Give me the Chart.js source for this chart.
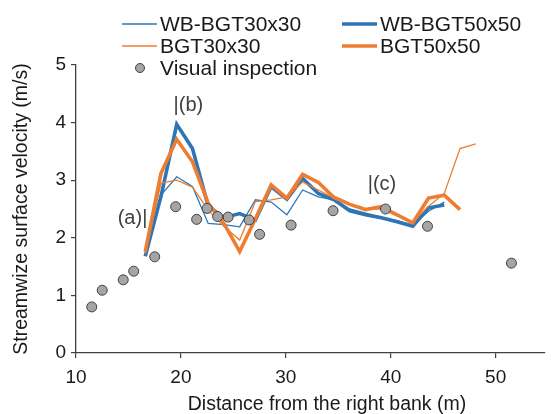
<!DOCTYPE html>
<html>
<head>
<meta charset="utf-8">
<script src="https://cdn.jsdelivr.net/npm/chart.js@4"></script>
<style>
  html, body { margin: 0; padding: 0; background: #fff; }
  #wrap { width: 551px; height: 414px; position: relative; }
</style>
</head>
<body>
<div id="wrap"><canvas id="velocityChart"></canvas></div>
<script>
// model stations (m from the right bank), every 1.5 m
const distance = [16.6, 18.1, 19.6, 21.1, 22.6, 24.1, 25.6, 27.1, 28.6, 30.1, 31.6,
                  33.1, 34.6, 36.1, 37.6, 39.1, 40.6, 42.1, 43.6, 45.1, 46.6, 48.1]

const wbBgt30 = [1.70, 2.74, 3.06, 2.89, 2.25, 2.23, 2.19, 2.66, 2.62, 2.40, 2.83,
                 2.71, 2.66, 2.50, 2.43, 2.36, 2.30, 2.22, 2.46, 2.62]
const wbBgt50 = [1.68, 2.72, 3.97, 3.55, 2.55, 2.35, 2.42, 2.31, 2.89, 2.67, 3.03,
                 2.77, 2.66, 2.47, 2.40, 2.35, 2.28, 2.20, 2.52, 2.57]
const bgt30 = [1.72, 2.95, 3.00, 2.88, 2.48, 2.20, 1.96, 2.63, 2.66, 2.71, 2.97,
               2.83, 2.69, 2.58, 2.50, 2.50, 2.38, 2.27, 2.55, 2.77, 3.55, 3.63]
const bgt50 = [1.76, 3.12, 3.71, 3.32, 2.60, 2.25, 1.76, 2.33, 2.92, 2.69, 3.10,
               2.96, 2.70, 2.58, 2.49, 2.54, 2.40, 2.26, 2.69, 2.74, 2.49]

// visual inspection
const visDistance = [11.5, 12.5, 14.5, 15.5, 17.5, 19.5, 21.5, 22.5, 23.5, 24.5,
                     26.5, 27.5, 30.5, 34.5, 39.5, 43.5, 51.5]
const visVelocity = [0.80, 1.09, 1.27, 1.42, 1.67, 2.54, 2.32, 2.51, 2.37, 2.36,
                     2.31, 2.06, 2.22, 2.47, 2.50, 2.20, 1.56]

const xTicks = [10, 20, 30, 40, 50]
const yTicks = [0, 1, 2, 3, 4, 5]

// section labels
const noteText = ['(a)|', '|(b)', '|(c)']
const noteX = [16.8, 19.3, 37.8]
const noteY = [2.34, 4.3, 2.92]

const BLUE = '#2E75B6'
const ORANGE = '#ED7D31'
const FONT = "'Liberation Sans', Arial, sans-serif"

let pairs = function (xs, ys) {
    return ys.map(function (y, i) { return { x: xs[i], y: y } })
}

let lineSet = function (label, values, color, width, order) {
    return {
        label: label,
        data: pairs(distance, values),
        showLine: true,
        borderColor: color,
        backgroundColor: color,
        borderWidth: width,
        pointRadius: 0,
        fill: false,
        tension: 0,
        order: order
    }
}

let legendItems = [
    { text: 'WB-BGT30x30', color: BLUE, width: 1.3, x: 122, y: 24 },
    { text: 'WB-BGT50x50', color: BLUE, width: 3.6, x: 342, y: 24 },
    { text: 'BGT30x30', color: ORANGE, width: 1.3, x: 122, y: 46 },
    { text: 'BGT50x50', color: ORANGE, width: 3.6, x: 342, y: 46 },
    { text: 'Visual inspection', dot: true, x: 122, y: 68 }
]

let overlay = {
    id: 'overlay',
    afterDraw: function (chart) {
        let ctx = chart.ctx
        let xs = chart.scales.x, ys = chart.scales.y
        ctx.save()

        // notes
        ctx.font = '20px ' + FONT
        ctx.fillStyle = '#404040'
        ctx.textBaseline = 'middle'
        noteText.forEach(function (t, i) {
            ctx.textAlign = t.charAt(0) === '|' ? 'left' : 'right'
            ctx.fillText(t, xs.getPixelForValue(noteX[i]), ys.getPixelForValue(noteY[i]))
        })

        // x axis title
        ctx.fillStyle = '#1a1a1a'
        ctx.font = '19.5px ' + FONT
        ctx.textAlign = 'center'
        ctx.fillText('Distance from the right bank (m)', 327, 405)

        // legend
        ctx.font = '21px ' + FONT
        ctx.textAlign = 'left'
        legendItems.forEach(function (it) {
            if (it.dot) {
                ctx.beginPath()
                ctx.arc(it.x + 18, it.y, 4.5, 0, Math.PI * 2)
                ctx.fillStyle = '#A5A5A5'
                ctx.fill()
                ctx.lineWidth = 1
                ctx.strokeStyle = '#404040'
                ctx.stroke()
            } else {
                ctx.beginPath()
                ctx.moveTo(it.x, it.y)
                ctx.lineTo(it.x + 35, it.y)
                ctx.lineWidth = it.width
                ctx.strokeStyle = it.color
                ctx.stroke()
            }
            ctx.fillStyle = '#1a1a1a'
            ctx.fillText(it.text, it.x + 38, it.y + 1)
        })
        ctx.restore()
    }
}

var cnx = document.getElementById('velocityChart')

var velocityChart = new Chart(cnx, {
    type: 'scatter',
    data: {
        datasets: [
            {
                label: 'Visual inspection',
                data: pairs(visDistance, visVelocity),
                pointRadius: 5,
                pointBackgroundColor: '#A5A5A5',
                pointBorderColor: '#404040',
                pointBorderWidth: 1,
                showLine: false,
                order: 0
            },
            lineSet('BGT50x50', bgt50, ORANGE, 3.6, 1),
            lineSet('BGT30x30', bgt30, ORANGE, 1.3, 2),
            lineSet('WB-BGT50x50', wbBgt50, BLUE, 3.6, 3),
            lineSet('WB-BGT30x30', wbBgt30, BLUE, 1.3, 4)
        ]
    },
    options: {
        responsive: true,
        maintainAspectRatio: false,
        animation: false,
        layout: { padding: { top: 65, right: 0, bottom: 0, left: 0 } },
        plugins: {
            legend: { display: false },
            tooltip: { enabled: false }
        },
        scales: {
            x: {
                type: 'linear',
                min: 10,
                max: 54.7,
                afterBuildTicks: function (scale) {
                    scale.ticks = xTicks.map(function (v) { return { value: v } })
                },
                afterFit: function (scale) { scale.height = 61 },
                grid: { display: true, drawOnChartArea: false, drawTicks: true, tickLength: 5, color: '#404040', lineWidth: 1.2 },
                border: { color: '#404040', width: 1.3 },
                ticks: { color: '#1a1a1a', font: { family: FONT, size: 19 }, padding: 8, maxRotation: 0 }
            },
            y: {
                min: 0,
                max: 5,
                afterBuildTicks: function (scale) {
                    scale.ticks = yTicks.map(function (v) { return { value: v } })
                },
                afterFit: function (scale) { scale.width = 76 },
                grid: { display: true, drawOnChartArea: false, drawTicks: true, tickLength: 5, color: '#404040', lineWidth: 1.2 },
                border: { color: '#404040', width: 1.3 },
                ticks: { color: '#1a1a1a', font: { family: FONT, size: 19 }, padding: 5 },
                title: {
                    display: true,
                    text: 'Streamwize surface velocity (m/s)',
                    color: '#1a1a1a',
                    font: { family: FONT, size: 19.5 },
                    padding: { top: 10, bottom: 0 }
                }
            }
        }
    },
    plugins: [overlay]
})
</script>
</body>
</html>
